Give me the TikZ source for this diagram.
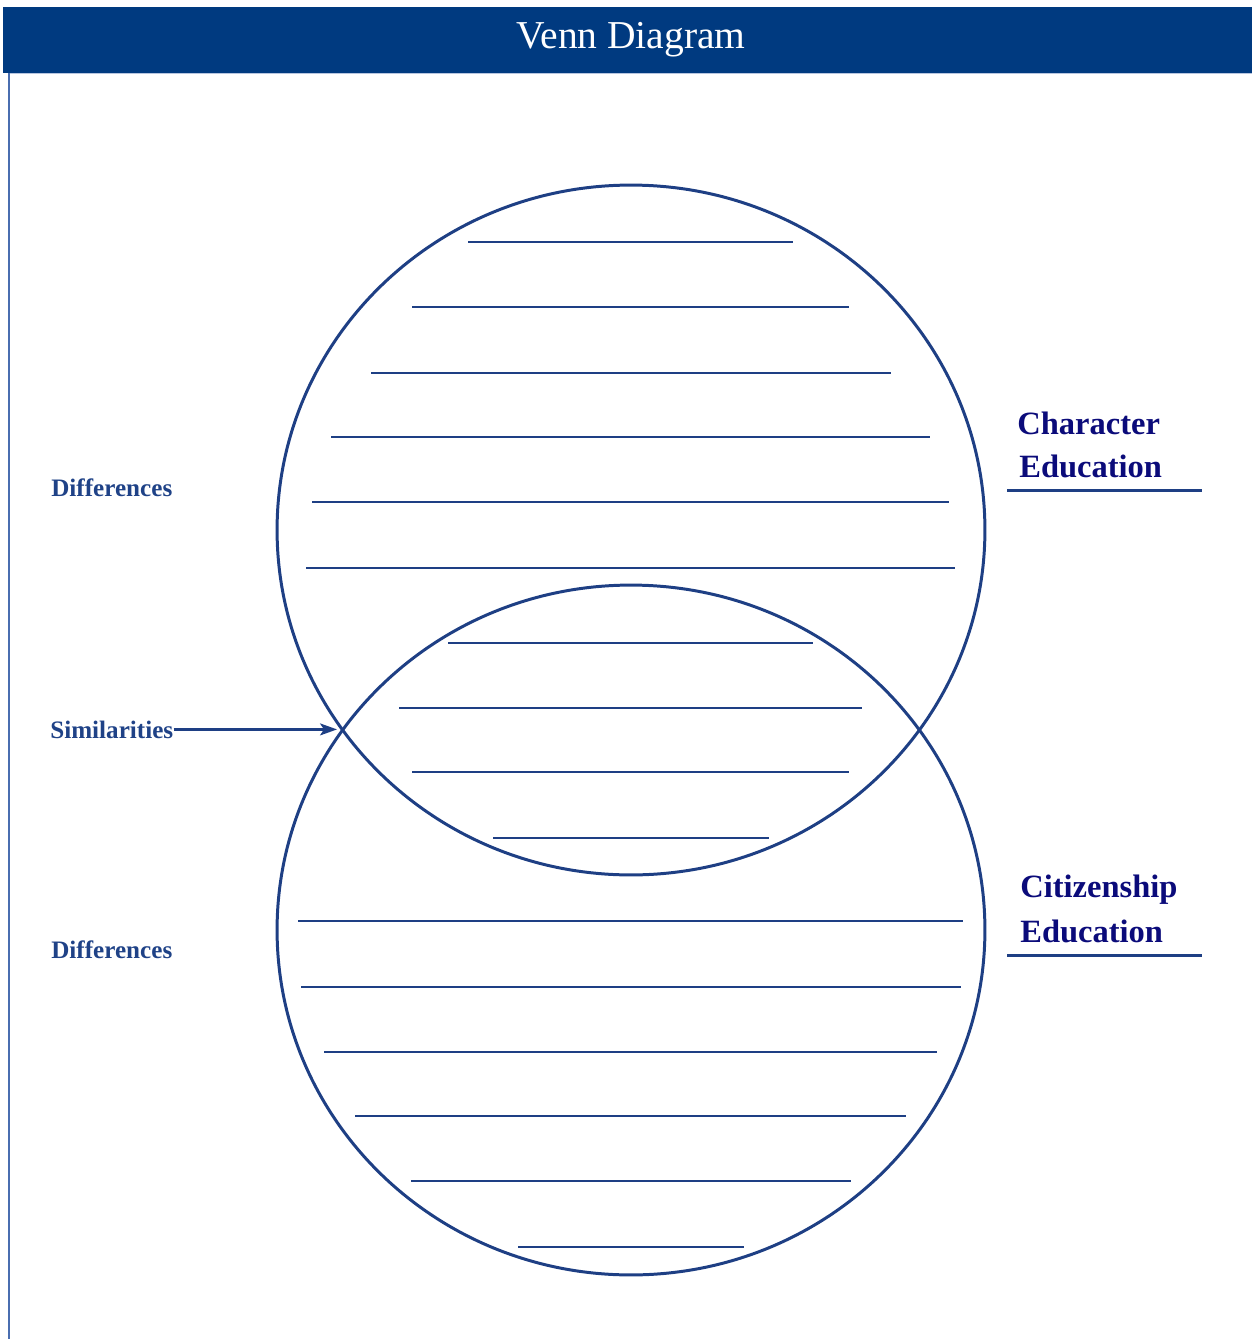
\documentclass[tikz,border=0pt]{standalone}
\usepackage{fontspec}
\setmainfont{Liberation Serif}
\usetikzlibrary{shapes.geometric, arrows.meta}

\definecolor{headblue}{HTML}{003A80}
\definecolor{ringblue}{HTML}{1E3F84}
\definecolor{labelblue}{HTML}{1F4287}
\definecolor{topicnavy}{HTML}{0B0B7A}
\definecolor{edgeblue}{HTML}{4A6EB0}

\begin{document}
\begin{tikzpicture}[x=0.02cm, y=-0.02cm,
ring_style/.style={ellipse, draw=ringblue, line width=1.7pt, minimum width=14.16cm, minimum height=13.8cm, inner sep=0pt},
rule_style/.style={ringblue, line width=1.4pt},
side_label/.style={font=\fontsize{14.3}{16}\selectfont\bfseries, text=labelblue, inner sep=0pt, anchor=base west},
topic_label/.style={font=\fontsize{18.5}{22}\selectfont\bfseries, text=topicnavy, inner sep=0pt, anchor=base west},
underline_style/.style={ringblue, line width=1.7pt},
pointer/.style={ringblue, line width=1.3pt, -{Stealth[length=0.34cm, width=0.24cm, inset=0.08cm]}},
]

\useasboundingbox (0,0) rectangle (1252,1339);

% header bar and page edge
\fill[headblue] (3,7) rectangle (1252,73);
\draw[edgeblue!40, line width=0.5pt] (9,73.5) -- (1252,73.5);
\draw[edgeblue, line width=1pt] (9,73) -- (9,1339);
\node[text=white, font=\fontsize{22.5}{26}\selectfont, anchor=base] (title) at (631,48) {Venn Diagram};

\begin{scope}

	\node[ring_style] (charset) at (631,530) {};
	\node[ring_style] (citset) at (631,930) {};

	% writing lines
	\foreach \y/\xa/\xb in {242/468/793, 307/412/849, 373/371/891, 437/331/930, 502/312/949, 568/306/955,
		643/448/813, 708/399/862, 772/412/849, 838/493/769,
		921/298/963, 987/301/961, 1052/324/937, 1116/355/906, 1181/411/851, 1247/518/744}
		\draw[rule_style] (\xa,\y) -- (\xb,\y);

	\node[side_label] (diffup) at (51,496) {Differences};
	\node[side_label] (simlabel) at (50,738) {Similarities};
	\node[side_label] (diffdown) at (51,958) {Differences};

	\coordinate (meet) at (337,731);
	\draw[pointer] (simlabel.east) -- (simlabel.east -| meet);

	\node[topic_label] (chartop) at (1017,434) {Character};
	\node[topic_label] (charedu) at (1019,477) {Education};
	\draw[underline_style] (1007,490) -- (1202,490);

	\node[topic_label] (cittop) at (1020,897) {Citizenship};
	\node[topic_label] (citedu) at (1020,942) {Education};
	\draw[underline_style] (1007,955) -- (1202,955);

\end{scope}

\end{tikzpicture}
\end{document}
